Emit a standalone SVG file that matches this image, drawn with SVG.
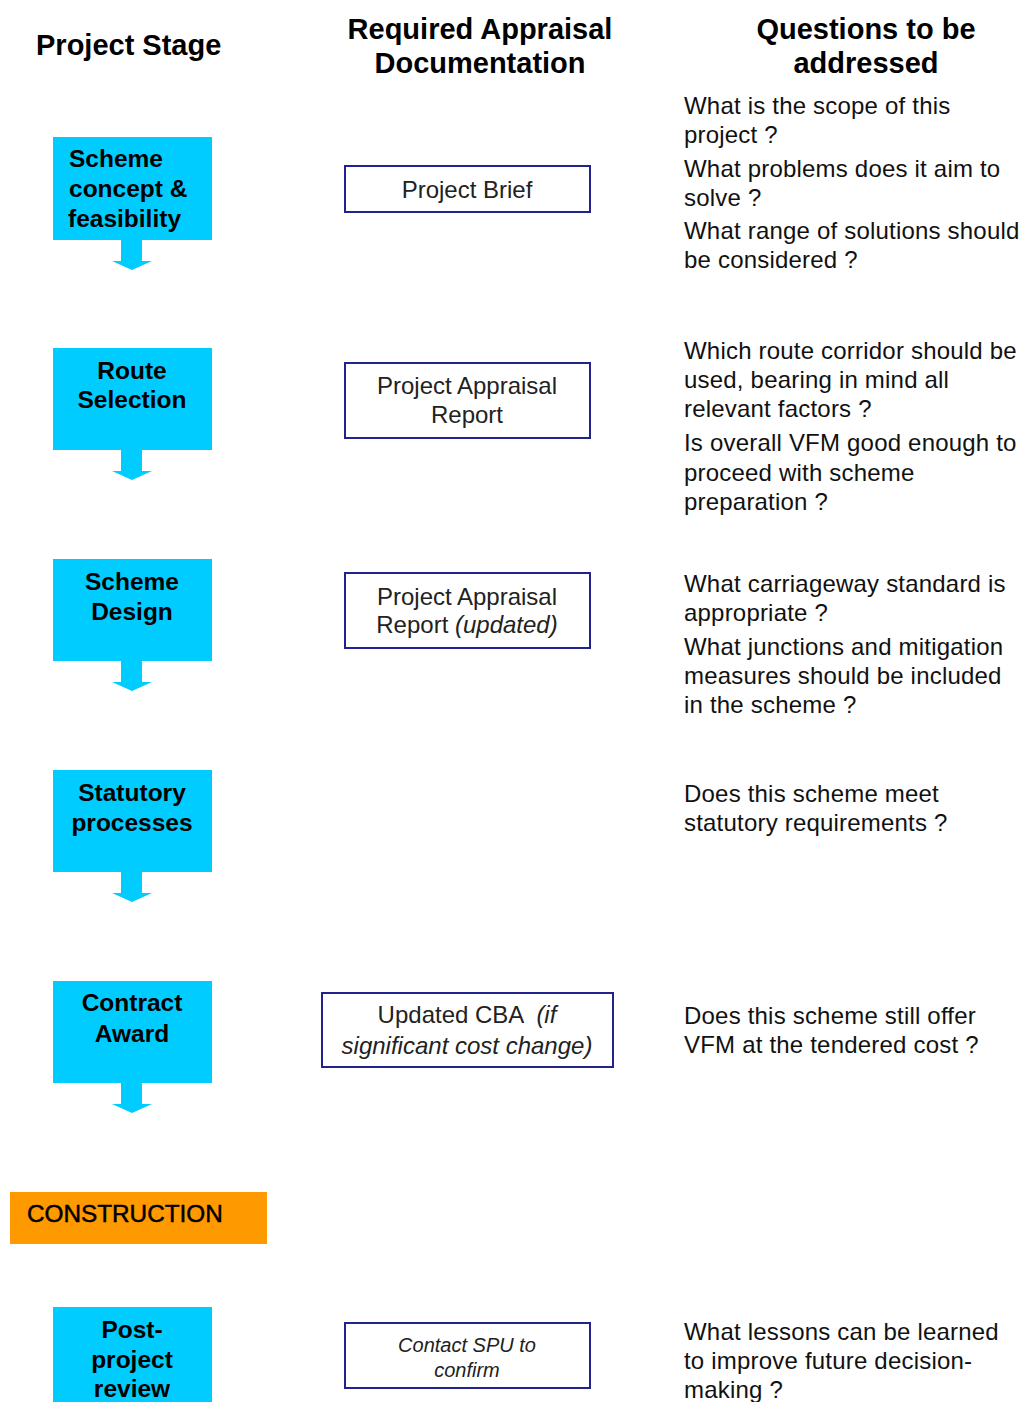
<svg xmlns="http://www.w3.org/2000/svg" width="1022" height="1402" viewBox="0 0 1022 1402">
<style>
.hdr{font-family:"Liberation Sans",Arial,sans-serif;font-weight:bold;font-size:29px;fill:#000}
.stage rect{fill:#00CCFF}
.stage text{font-family:"Liberation Sans",Arial,sans-serif;font-weight:bold;font-size:24.5px;fill:#000}
.doc rect{fill:#fff;stroke:#22228f;stroke-width:2}
.doc text{font-family:"Liberation Sans",Arial,sans-serif;font-size:24px;fill:#222;text-anchor:middle}
.q text{font-family:"Liberation Sans",Arial,sans-serif;font-size:24px;letter-spacing:0.2px;fill:#111}
.arr{fill:#00CCFF}
.it{font-style:italic}
</style>
<rect x="0" y="0" width="1022" height="1402" fill="#fff"/>

<g id="headers">
<text class="hdr" x="36" y="55">Project Stage</text>
<text class="hdr" x="480" y="39" text-anchor="middle">Required Appraisal</text>
<text class="hdr" x="480" y="73" text-anchor="middle">Documentation</text>
<text class="hdr" x="866" y="39" text-anchor="middle">Questions to be</text>
<text class="hdr" x="866" y="73" text-anchor="middle">addressed</text>
</g>

<g id="connectors">
<polygon class="arr" points="121,240 142,240 142,261 152,261 132,270 112,261 121,261"/>
<polygon class="arr" points="121,450 142,450 142,471 152,471 132,480 112,471 121,471"/>
<polygon class="arr" points="121,661 142,661 142,682 152,682 132,691 112,682 121,682"/>
<polygon class="arr" points="121,872 142,872 142,893 152,893 132,902 112,893 121,893"/>
<polygon class="arr" points="121,1083 142,1083 142,1104 152,1104 132,1113 112,1104 121,1104"/>
</g>

<g id="stage-concept" class="stage">
<rect x="53" y="137" width="159" height="103"/>
<text x="69" y="167">Scheme</text>
<text x="69" y="197">concept &amp;</text>
<text x="68" y="227">feasibility</text>
</g>
<g id="stage-route" class="stage">
<rect x="53" y="348" width="159" height="102"/>
<text x="132" y="379" text-anchor="middle">Route</text>
<text x="132" y="408" text-anchor="middle">Selection</text>
</g>
<g id="stage-design" class="stage">
<rect x="53" y="559" width="159" height="102"/>
<text x="132" y="590" text-anchor="middle">Scheme</text>
<text x="132" y="620" text-anchor="middle">Design</text>
</g>
<g id="stage-statutory" class="stage">
<rect x="53" y="770" width="159" height="102"/>
<text x="132" y="801" text-anchor="middle">Statutory</text>
<text x="132" y="831" text-anchor="middle">processes</text>
</g>
<g id="stage-contract" class="stage">
<rect x="53" y="981" width="159" height="102"/>
<text x="132" y="1011" text-anchor="middle">Contract</text>
<text x="132" y="1042" text-anchor="middle">Award</text>
</g>
<g id="stage-construction">
<rect x="10" y="1192" width="257" height="52" fill="#FF9900"/>
<text x="27" y="1222" font-family="Liberation Sans, Arial, sans-serif" font-size="24.3" fill="#000" stroke="#000" stroke-width="0.5">CONSTRUCTION</text>
</g>
<g id="stage-post" class="stage">
<rect x="53" y="1307" width="159" height="100"/>
<text x="132" y="1338" text-anchor="middle">Post-</text>
<text x="132" y="1368" text-anchor="middle">project</text>
<text x="132" y="1397" text-anchor="middle">review</text>
</g>

<g id="doc-brief" class="doc">
<rect x="345" y="166" width="245" height="46"/>
<text x="467" y="198">Project Brief</text>
</g>
<g id="doc-par" class="doc">
<rect x="345" y="363" width="245" height="75"/>
<text x="467" y="394">Project Appraisal</text>
<text x="467" y="423">Report</text>
</g>
<g id="doc-par-updated" class="doc">
<rect x="345" y="573" width="245" height="75"/>
<text x="467" y="605">Project Appraisal</text>
<text x="467" y="633">Report <tspan class="it">(updated)</tspan></text>
</g>
<g id="doc-cba" class="doc">
<rect x="322" y="993" width="291" height="74"/>
<text x="467" y="1023" xml:space="preserve">Updated CBA  <tspan class="it">(if</tspan></text>
<text x="467" y="1054" class="it">significant cost change)</text>
</g>
<g id="doc-spu" class="doc">
<rect x="345" y="1323" width="245" height="65"/>
<text x="467" y="1352" class="it" style="font-size:20px">Contact SPU to</text>
<text x="467" y="1377" class="it" style="font-size:20px">confirm</text>
</g>

<g id="q-concept" class="q">
<text x="684" y="114">What is the scope of this</text>
<text x="684" y="143">project ?</text>
<text x="684" y="177">What problems does it aim to</text>
<text x="684" y="206">solve ?</text>
<text x="684" y="239">What range of solutions should</text>
<text x="684" y="268">be considered ?</text>
</g>
<g id="q-route" class="q">
<text x="684" y="359">Which route corridor should be</text>
<text x="684" y="388">used, bearing in mind all</text>
<text x="684" y="417">relevant factors ?</text>
<text x="684" y="451">Is overall VFM good enough to</text>
<text x="684" y="481">proceed with scheme</text>
<text x="684" y="510">preparation ?</text>
</g>
<g id="q-design" class="q">
<text x="684" y="592">What carriageway standard is</text>
<text x="684" y="621">appropriate ?</text>
<text x="684" y="655">What junctions and mitigation</text>
<text x="684" y="684">measures should be included</text>
<text x="684" y="713">in the scheme ?</text>
</g>
<g id="q-statutory" class="q">
<text x="684" y="802">Does this scheme meet</text>
<text x="684" y="831">statutory requirements ?</text>
</g>
<g id="q-contract" class="q">
<text x="684" y="1024">Does this scheme still offer</text>
<text x="684" y="1053">VFM at the tendered cost ?</text>
</g>
<g id="q-post" class="q">
<text x="684" y="1340">What lessons can be learned</text>
<text x="684" y="1369">to improve future decision-</text>
<text x="684" y="1398">making ?</text>
</g>
</svg>
